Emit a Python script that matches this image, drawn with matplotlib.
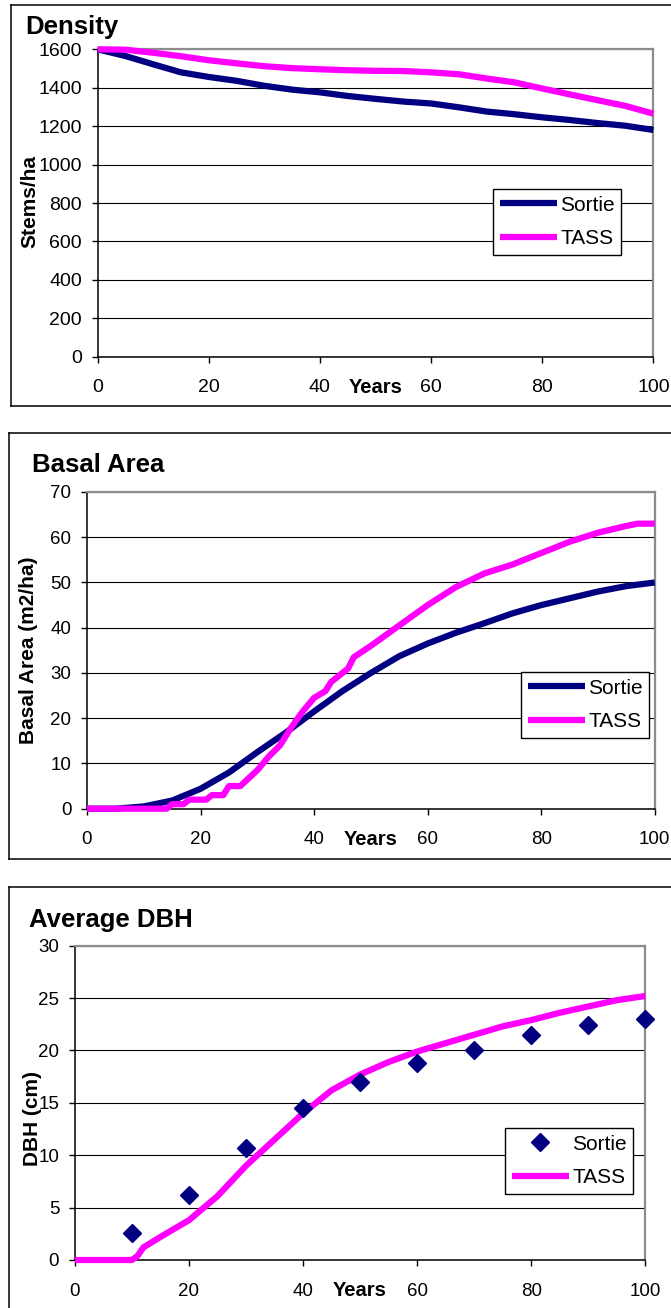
import matplotlib
matplotlib.use("Agg")
import matplotlib.pyplot as plt
from matplotlib.lines import Line2D

plt.rcParams["font.family"] = ["Liberation Sans", "DejaVu Sans"]

# stand age, years
years = [0, 5, 10, 15, 20, 25, 30, 35, 40, 45, 50,
         55, 60, 65, 70, 75, 80, 85, 90, 95, 100]

# density, stems/ha
density_sortie = [1600, 1565, 1522, 1480, 1456, 1436, 1410, 1390, 1376, 1357, 1342,
                  1328, 1318, 1298, 1276, 1262, 1246, 1232, 1216, 1202, 1180]
density_tass = [1600, 1598, 1582, 1564, 1543, 1527, 1512, 1502, 1496, 1491, 1488,
                1487, 1480, 1470, 1448, 1428, 1396, 1365, 1335, 1305, 1265]

# basal area, m2/ha
basal_sortie = [0, 0, 0.5, 1.8, 4.4, 8.0, 12.5, 16.8, 21.5, 26.0, 30.0,
                33.7, 36.5, 38.9, 41.0, 43.2, 45.0, 46.5, 48.0, 49.2, 50.0]
# TASS reports whole m2/ha, so its curve climbs in small steps
basal_tass_years = [0, 14, 15, 17, 18, 21, 22, 24, 25, 27, 30, 32, 34, 36, 38, 40,
                    42, 43, 45, 46, 47, 50, 55, 60, 65, 70, 75, 80, 85, 90, 95, 97, 100]
basal_tass = [0, 0, 1, 1, 2, 2, 3, 3, 5, 5, 8.5, 11.5, 14, 18, 21.5, 24.5,
              26, 28, 30, 31, 33.5, 36, 40.5, 45, 49, 52, 54, 56.5, 59, 61, 62.5, 63, 63]

# average DBH, cm
dbh_years = [10, 20, 30, 40, 50, 60, 70, 80, 90, 100]
dbh_sortie = [2.55, 6.2, 10.7, 14.5, 17.0, 18.8, 20.0, 21.5, 22.4, 23.0]
dbh_tass_years = [0, 5, 10, 11, 12, 15, 20, 25, 30, 35, 40, 45, 50,
                  55, 60, 65, 70, 75, 80, 85, 90, 95, 100]
dbh_tass = [0, 0, 0, 0.4, 1.2, 2.2, 3.8, 6.1, 9.0, 11.5, 14.0, 16.2, 17.7,
            18.9, 19.9, 20.7, 21.5, 22.3, 22.9, 23.6, 24.2, 24.8, 25.2]

NAVY = "#000080"
MAGENTA = "#FF00FF"
W, H = 671, 1308

fig = plt.figure(figsize=(W / 100, H / 100), dpi=100)


def rect(left, top, right, bottom):
    return [left / W, 1 - bottom / H, (right - left) / W, (bottom - top) / H]


def frame(left, top, bottom):
    # outer border of each chart block (runs off the right edge)
    kw = dict(color="black", lw=1.1, transform=fig.transFigure)
    fig.add_artist(Line2D([left / W, left / W], [1 - top / H, 1 - bottom / H], **kw))
    fig.add_artist(Line2D([left / W, 1.01], [1 - top / H, 1 - top / H], **kw))
    fig.add_artist(Line2D([left / W, 1.01], [1 - bottom / H, 1 - bottom / H], **kw))


def setup(ax, ymax, ystep, fs):
    ax.set_xlim(0, 100)
    ax.set_ylim(0, ymax)
    ax.set_xticks(range(0, 101, 20))
    ax.set_yticks(range(0, ymax + 1, ystep))
    ax.grid(axis="y", color="black", lw=0.8)
    ax.set_axisbelow(True)
    for s in ("top", "right"):
        ax.spines[s].set_color("#8c8c8c")
        ax.spines[s].set_linewidth(1.6)
    for s in ("left", "bottom"):
        ax.spines[s].set_color("black")
        ax.spines[s].set_linewidth(1.1)
    ax.tick_params(direction="out", length=4.3, width=1, labelsize=fs)
    ax.tick_params(axis="x", pad=12)
    ax.tick_params(axis="y", pad=7)
    ax.annotate("Years", xy=(0.5, 0), xycoords="axes fraction",
                xytext=(0, -31), textcoords="offset pixels",
                ha="center", va="center", fontsize=14.5, fontweight="bold")


def legend(ax, x, y):
    leg = ax.legend(loc="upper left", bbox_to_anchor=(x / W, 1 - y / H),
                    bbox_transform=fig.transFigure, borderaxespad=0,
                    fancybox=False, edgecolor="black", framealpha=1,
                    fontsize=15, handlelength=2.75, handletextpad=0.15,
                    borderpad=0.32, labelspacing=0.68)
    leg.get_frame().set_linewidth(1)
    leg.set_zorder(5)


line_kw = dict(lw=4.5, solid_capstyle="butt", clip_on=False, zorder=3)

# Density
frame(11, 5, 406)
ax1 = fig.add_axes(rect(97.6, 49.3, 653.4, 356.7))
ax1.plot(years, density_sortie, color=NAVY, label="Sortie", **line_kw)
ax1.plot(years, density_tass, color=MAGENTA, label="TASS", **line_kw)
setup(ax1, 1600, 200, 14)
legend(ax1, 493, 189)
fig.text(25 / W, 1 - 34 / H, "Density", fontsize=18.5, fontweight="bold")
fig.text(29.5 / W, 1 - 202 / H, "Stems/ha", rotation=90, ha="center", va="center",
         fontsize=15, fontweight="bold")

# Basal area
frame(9, 433, 859)
ax2 = fig.add_axes(rect(87, 492, 654.7, 808.7))
ax2.plot(years, basal_sortie, color=NAVY, label="Sortie", **line_kw)
ax2.plot(basal_tass_years, basal_tass, color=MAGENTA, label="TASS", **line_kw)
setup(ax2, 70, 10, 13.5)
legend(ax2, 521, 672)
fig.text(32 / W, 1 - 472.5 / H, "Basal Area", fontsize=18.5, fontweight="bold")
fig.text(28 / W, 1 - 650 / H, "Basal Area (m2/ha)", rotation=90, ha="center",
         va="center", fontsize=15, fontweight="bold")

# Average DBH
frame(9, 887, 1320)
ax3 = fig.add_axes(rect(74.9, 945.7, 645.3, 1260))
ax3.plot(dbh_years, dbh_sortie, linestyle="none", marker="D", ms=9.5, color=NAVY,
         label="Sortie", clip_on=False, zorder=4)
ax3.plot(dbh_tass_years, dbh_tass, color=MAGENTA, label="TASS", **line_kw)
setup(ax3, 30, 5, 13.5)
legend(ax3, 505, 1128)
fig.text(29 / W, 1 - 926.5 / H, "Average DBH", fontsize=18.5, fontweight="bold")
fig.text(33 / W, 1 - 1119 / H, "DBH (cm)", rotation=90, ha="center", va="center",
         fontsize=15, fontweight="bold")

fig.savefig("out.png", dpi=100)
